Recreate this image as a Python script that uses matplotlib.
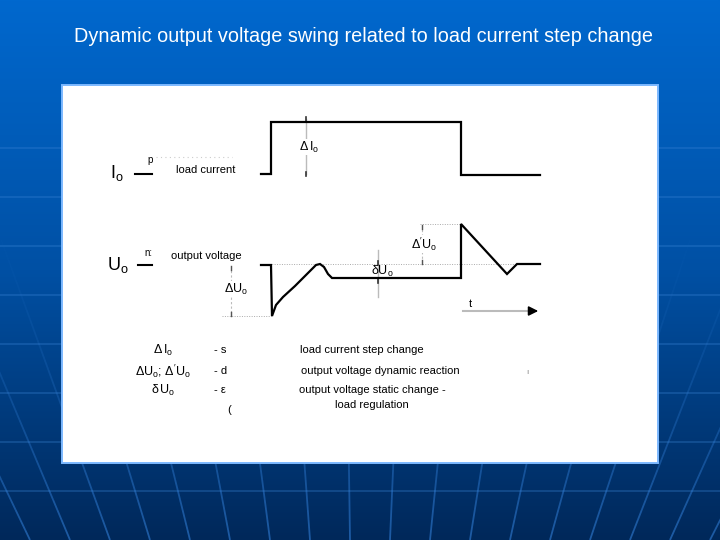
import numpy as np
import matplotlib
matplotlib.use("Agg")
import matplotlib.pyplot as plt
from matplotlib.patches import Rectangle
from matplotlib.collections import LineCollection

plt.rcParams['font.family'] = ['Liberation Sans', 'DejaVu Sans']
plt.rcParams['mathtext.fontset'] = 'custom'
plt.rcParams['mathtext.rm'] = 'Liberation Sans'
plt.rcParams['mathtext.it'] = 'Liberation Sans'
plt.rcParams['mathtext.default'] = 'regular'

# ---- data (diagram coordinates: x = time in px, y = level in px, y down) ----
title = "Dynamic output voltage swing related to load current step change"

io_stub_time = [135, 152]
io_stub_level = [174, 174]
io_time = [261, 271, 271, 461, 461, 540]
io_level = [174, 174, 122, 122, 175, 175]

uo_stub_time = [138, 152]
uo_stub_level = [265, 265]
uo_time = [261, 271, 272, 276, 283, 295, 308, 316, 320, 324, 328, 332,
           461, 461, 507, 517, 540]
uo_level = [265, 265, 316, 305, 297, 286, 273, 265, 264, 267, 274, 278,
            278, 224, 274, 264, 264]

legend_symbols = [r"$\Delta\,I_o$", r"$\Delta U_o$; $\Delta' U_o$", r"$\delta\,U_o$"]
legend_dashes = ["- s", "- d", "- \u03b5"]
legend_texts = ["load current step change", "output voltage dynamic reaction",
                "output voltage static change -"]
legend_rows = [350, 371, 390]

fig = plt.figure(figsize=(7.2, 5.4), dpi=100)
ax = fig.add_axes([0, 0, 1, 1])
ax.set_xlim(0, 720)
ax.set_ylim(540, 0)
ax.axis('off')

# background gradient
top = np.array([0, 104, 206]) / 255
mid = np.array([0, 80, 164]) / 255
bot = np.array([0, 40, 90]) / 255
ys = np.linspace(0, 1, 300)[:, None]
grad = np.where(ys < 0.5, top + (mid - top) * (ys / 0.5), mid + (bot - mid) * ((ys - 0.5) / 0.5))
img = np.repeat(grad[:, None, :], 2, axis=1).reshape(300, 2, 3)
ax.imshow(img, extent=[0, 720, 540, 0], aspect='auto', zorder=0)

for yy in np.arange(148, 540, 49):
    ax.plot([0, 720], [yy, yy], color='#3d86d8', lw=1.2, alpha=0.35, zorder=1)

# faint perspective lines, fading upward
segs, cols = [], []
for xb in np.arange(30, 720, 40):
    d = xb - 360
    ypts = np.linspace(200, 540, 35)
    xpts = xb - d * 0.00145 * (ypts - 540)
    for i in range(len(ypts) - 1):
        segs.append([(xpts[i], ypts[i]), (xpts[i + 1], ypts[i + 1])])
        a = 0.6 * ((ypts[i] - 200) / 340) ** 1.5
        cols.append((0.2, 0.5, 0.85, a))
ax.add_collection(LineCollection(segs, colors=cols, linewidths=1.3, zorder=1))

# white panel
ax.add_patch(Rectangle((62, 85), 596, 378, facecolor='white', edgecolor='#7db9ff', lw=1.4, zorder=2))

# title
ax.text(363, 36, title, color='white', fontsize=14.3, ha='center', va='center', zorder=5)

# reference dotted lines
ax.plot([262, 540], [264, 264], color='#aaaaaa', lw=0.7, ls=(0, (1, 1.5)), zorder=3)
ax.plot([222, 272], [316, 316], color='#aaaaaa', lw=0.7, ls=(0, (1, 1.5)), zorder=3)
ax.plot([420, 461], [224, 224], color='#aaaaaa', lw=0.7, ls=(0, (1, 1.5)), zorder=3)

# dimension lines
ax.plot([306, 306], [119, 174], color='#bbbbbb', lw=1.0, zorder=3)
for yy in (119, 174):
    ax.plot([306, 306], [yy - 2, yy + 2], color='#333333', lw=1.2, zorder=3)
ax.plot([231, 231], [266, 316], color='#bbbbbb', lw=0.8, ls=(0, (2, 2)), zorder=3)
for yy in (268, 314):
    ax.plot([231, 231], [yy - 2, yy + 2], color='#555555', lw=1.0, zorder=3)
ax.plot([422, 422], [225, 263], color='#bbbbbb', lw=0.8, ls=(0, (2, 2)), zorder=3)
for yy in (227, 262):
    ax.plot([422, 422], [yy - 2, yy + 2], color='#555555', lw=1.0, zorder=3)
ax.plot([378, 378], [250, 297], color='#bbbbbb', lw=1.0, zorder=3)
for yy in (263, 281):
    ax.plot([378, 378], [yy - 2, yy + 2], color='#333333', lw=1.2, zorder=3)

# waveforms
ax.plot(io_stub_time, io_stub_level, color='black', lw=1.5, zorder=4)
ax.plot(io_time, io_level, color='black', lw=1.6, zorder=4, solid_joinstyle='miter')
ax.plot(uo_stub_time, uo_stub_level, color='black', lw=1.5, zorder=4)
ax.plot(uo_time, uo_level, color='black', lw=1.6, zorder=4, solid_joinstyle='miter')

# time arrow
ax.plot([463, 528], [311, 311], color='#bbbbbb', lw=1.5, zorder=3)
ax.annotate('', xy=(541, 311), xytext=(526, 311),
            arrowprops=dict(arrowstyle='-|>', color='black', lw=1.2, mutation_scale=14), zorder=4)
ax.text(470, 304, 't', fontsize=8, ha='center', va='center', zorder=5)

wb = dict(facecolor='white', edgecolor='none', pad=0.5)
# labels
ax.text(117, 173, r"$I_o$", fontsize=13, ha='center', va='center', zorder=5)
ax.text(118, 265, r"$U_o$", fontsize=13, ha='center', va='center', zorder=5)
ax.text(150, 160, "p", fontsize=7, ha='center', va='center', zorder=5)
ax.plot([156, 232], [157, 157], color='#cccccc', lw=0.8, ls=(0, (1, 3)), zorder=3)
ax.text(148, 253, "n:", fontsize=7, ha='center', va='center', zorder=5)
ax.text(206, 170, "load current", fontsize=8, ha='center', va='center', zorder=5)
ax.text(206, 256, "output voltage", fontsize=8, ha='center', va='center', zorder=5)
ax.text(309, 147, r"$\Delta\,I_o$", fontsize=9, ha='center', va='center', zorder=5, bbox=wb)
ax.text(236, 289, r"$\Delta U_o$", fontsize=9, ha='center', va='center', zorder=5, bbox=wb)
ax.text(424, 244, r"$\Delta' U_o$", fontsize=9, ha='center', va='center', zorder=5, bbox=wb)
ax.text(382, 271, r"$\delta U_o$", fontsize=9, ha='center', va='center', zorder=5)

# legend block
for sym, dash, yy in zip(legend_symbols, legend_dashes, legend_rows):
    ax.text(163, yy, sym, fontsize=9, ha='center', va='center', zorder=5)
    ax.text(214, yy, dash, fontsize=8, ha='left', va='center', zorder=5)
ax.text(362, legend_rows[0], legend_texts[0], fontsize=8, ha='center', va='center', zorder=5)
ax.text(380, legend_rows[1], legend_texts[1], fontsize=8, ha='center', va='center', zorder=5)
ax.text(372, legend_rows[2], legend_texts[2], fontsize=8, ha='center', va='center', zorder=5)
ax.text(372, 405, "load regulation", fontsize=8, ha='center', va='center', zorder=5)
ax.text(229, 410, "(", fontsize=8, ha='center', va='center', zorder=5)
ax.text(527, 372, "\u0131", fontsize=6, color='#888888', ha='center', va='center', zorder=5)

fig.savefig('out.png', dpi=100)
